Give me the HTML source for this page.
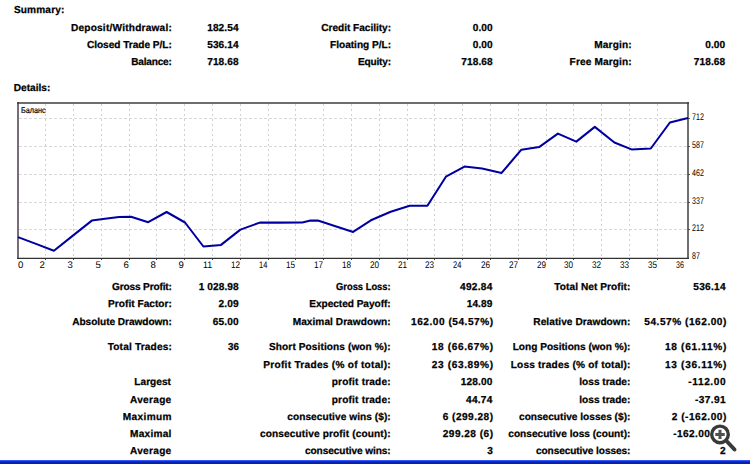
<!DOCTYPE html>
<html><head><meta charset="utf-8"><style>
html,body{margin:0;padding:0;width:750px;height:464px;overflow:hidden;background:#fff;}
body{position:relative;font-family:"Liberation Sans",sans-serif;color:#000;}
.t{position:absolute;white-space:nowrap;line-height:20px;height:20px;transform-origin:0 0;text-rendering:geometricPrecision;}
.b{-webkit-text-stroke:0.25px #000;}
svg{position:absolute;left:0;top:0;}
.g{stroke:#d8d8d8;stroke-width:1;stroke-dasharray:3 2;}
.gv{stroke:#d0d0d0;stroke-width:1;stroke-dasharray:2 3;}
.n{-webkit-text-stroke:0.2px #000;}
.bar{position:absolute;left:0;top:460px;width:750px;height:4px;background:linear-gradient(#3456ff 0,#3456ff 1px,#0a2ee0 1px,#0a2ee0 2px,#0620b0 2px);}
</style></head><body>
<svg width="750" height="464" viewBox="0 0 750 464">
<line x1="19" y1="118.5" x2="687" y2="118.5" class="g"/>
<line x1="19" y1="146.5" x2="687" y2="146.5" class="g"/>
<line x1="19" y1="174.5" x2="687" y2="174.5" class="g"/>
<line x1="19" y1="202.5" x2="687" y2="202.5" class="g"/>
<line x1="19" y1="229.5" x2="687" y2="229.5" class="g"/>
<line x1="45.5" y1="104" x2="45.5" y2="258" class="gv"/>
<line x1="45.5" y1="258" x2="45.5" y2="260" stroke="#444" stroke-width="1"/>
<line x1="73.5" y1="104" x2="73.5" y2="258" class="gv"/>
<line x1="73.5" y1="258" x2="73.5" y2="260" stroke="#444" stroke-width="1"/>
<line x1="101.5" y1="104" x2="101.5" y2="258" class="gv"/>
<line x1="101.5" y1="258" x2="101.5" y2="260" stroke="#444" stroke-width="1"/>
<line x1="129.5" y1="104" x2="129.5" y2="258" class="gv"/>
<line x1="129.5" y1="258" x2="129.5" y2="260" stroke="#444" stroke-width="1"/>
<line x1="156.5" y1="104" x2="156.5" y2="258" class="gv"/>
<line x1="156.5" y1="258" x2="156.5" y2="260" stroke="#444" stroke-width="1"/>
<line x1="184.5" y1="104" x2="184.5" y2="258" class="gv"/>
<line x1="184.5" y1="258" x2="184.5" y2="260" stroke="#444" stroke-width="1"/>
<line x1="212.5" y1="104" x2="212.5" y2="258" class="gv"/>
<line x1="212.5" y1="258" x2="212.5" y2="260" stroke="#444" stroke-width="1"/>
<line x1="240.5" y1="104" x2="240.5" y2="258" class="gv"/>
<line x1="240.5" y1="258" x2="240.5" y2="260" stroke="#444" stroke-width="1"/>
<line x1="268.5" y1="104" x2="268.5" y2="258" class="gv"/>
<line x1="268.5" y1="258" x2="268.5" y2="260" stroke="#444" stroke-width="1"/>
<line x1="295.5" y1="104" x2="295.5" y2="258" class="gv"/>
<line x1="295.5" y1="258" x2="295.5" y2="260" stroke="#444" stroke-width="1"/>
<line x1="323.5" y1="104" x2="323.5" y2="258" class="gv"/>
<line x1="323.5" y1="258" x2="323.5" y2="260" stroke="#444" stroke-width="1"/>
<line x1="351.5" y1="104" x2="351.5" y2="258" class="gv"/>
<line x1="351.5" y1="258" x2="351.5" y2="260" stroke="#444" stroke-width="1"/>
<line x1="379.5" y1="104" x2="379.5" y2="258" class="gv"/>
<line x1="379.5" y1="258" x2="379.5" y2="260" stroke="#444" stroke-width="1"/>
<line x1="407.5" y1="104" x2="407.5" y2="258" class="gv"/>
<line x1="407.5" y1="258" x2="407.5" y2="260" stroke="#444" stroke-width="1"/>
<line x1="434.5" y1="104" x2="434.5" y2="258" class="gv"/>
<line x1="434.5" y1="258" x2="434.5" y2="260" stroke="#444" stroke-width="1"/>
<line x1="462.5" y1="104" x2="462.5" y2="258" class="gv"/>
<line x1="462.5" y1="258" x2="462.5" y2="260" stroke="#444" stroke-width="1"/>
<line x1="490.5" y1="104" x2="490.5" y2="258" class="gv"/>
<line x1="490.5" y1="258" x2="490.5" y2="260" stroke="#444" stroke-width="1"/>
<line x1="518.5" y1="104" x2="518.5" y2="258" class="gv"/>
<line x1="518.5" y1="258" x2="518.5" y2="260" stroke="#444" stroke-width="1"/>
<line x1="546.5" y1="104" x2="546.5" y2="258" class="gv"/>
<line x1="546.5" y1="258" x2="546.5" y2="260" stroke="#444" stroke-width="1"/>
<line x1="573.5" y1="104" x2="573.5" y2="258" class="gv"/>
<line x1="573.5" y1="258" x2="573.5" y2="260" stroke="#444" stroke-width="1"/>
<line x1="601.5" y1="104" x2="601.5" y2="258" class="gv"/>
<line x1="601.5" y1="258" x2="601.5" y2="260" stroke="#444" stroke-width="1"/>
<line x1="629.5" y1="104" x2="629.5" y2="258" class="gv"/>
<line x1="629.5" y1="258" x2="629.5" y2="260" stroke="#444" stroke-width="1"/>
<line x1="657.5" y1="104" x2="657.5" y2="258" class="gv"/>
<line x1="657.5" y1="258" x2="657.5" y2="260" stroke="#444" stroke-width="1"/>
<line x1="688" y1="118.5" x2="690" y2="118.5" stroke="#555" stroke-width="1"/>
<line x1="688" y1="146.5" x2="690" y2="146.5" stroke="#555" stroke-width="1"/>
<line x1="688" y1="174.5" x2="690" y2="174.5" stroke="#555" stroke-width="1"/>
<line x1="688" y1="202.5" x2="690" y2="202.5" stroke="#555" stroke-width="1"/>
<line x1="688" y1="229.5" x2="690" y2="229.5" stroke="#555" stroke-width="1"/>
<line x1="18" y1="102" x2="18" y2="259" stroke="#4a3c4a" stroke-width="1.5"/>
<line x1="17" y1="102.9" x2="689" y2="102.9" stroke="#3e3e3e" stroke-width="1.5"/>
<line x1="688" y1="102" x2="688" y2="259" stroke="#3e3e3e" stroke-width="1.5"/>
<line x1="17" y1="258.4" x2="689" y2="258.4" stroke="#333" stroke-width="1.3"/>
<polyline fill="none" stroke="#0000a0" stroke-width="2.05" stroke-linejoin="round" points="18,237.1 36,243.9 53.9,250.7 72.9,235.6 91.8,220.6 105,218.8 119,217.0 131,216.8 148.2,222.2 166.6,212.0 185,222.5 203.4,246.5 221,244.9 240.4,229.6 259.8,222.6 278.5,222.6 302.4,222.4 310.4,220.6 317.9,220.6 335.5,226.3 353.1,231.9 370.9,220.3 390.7,211.7 409.7,205.7 427.4,205.7 445.9,176.7 464.5,166.6 482,168.6 501.6,172.9 521.4,149.7 539.1,147.1 557.9,133.6 576.3,141.6 594.8,126.9 614.4,142.5 631.5,149.4 650.8,148.5 669.9,122.5 688,117.9"/>
</svg>
<div class="t b" style="left:13.90px;top:1.00px;font-weight:bold;font-size:10.1px;letter-spacing:0.157px;">Summary:</div>
<div class="t b" style="left:13.80px;top:79.00px;font-weight:bold;font-size:10.1px;letter-spacing:0.014px;">Details:</div>
<div class="t b" style="left:70.90px;top:19.00px;font-weight:bold;font-size:10.1px;letter-spacing:0.224px;">Deposit/Withdrawal:</div>
<div class="t b" style="left:86.90px;top:36.00px;font-weight:bold;font-size:10.1px;letter-spacing:-0.018px;">Closed Trade P/L:</div>
<div class="t b" style="left:131.20px;top:53.00px;font-weight:bold;font-size:10.1px;letter-spacing:-0.202px;">Balance:</div>
<div class="t b" style="left:207.20px;top:19.00px;font-weight:bold;font-size:10.1px;letter-spacing:0.088px;">182.54</div>
<div class="t b" style="left:207.20px;top:36.00px;font-weight:bold;font-size:10.1px;letter-spacing:0.088px;">536.14</div>
<div class="t b" style="left:207.20px;top:53.00px;font-weight:bold;font-size:10.1px;letter-spacing:0.088px;">718.68</div>
<div class="t b" style="left:321.30px;top:19.00px;font-weight:bold;font-size:10.1px;letter-spacing:-0.023px;">Credit Facility:</div>
<div class="t b" style="left:330.00px;top:36.00px;font-weight:bold;font-size:10.1px;">Floating P/L:</div>
<div class="t b" style="left:358.00px;top:53.00px;font-weight:bold;font-size:10.1px;letter-spacing:-0.191px;">Equity:</div>
<div class="t b" style="left:472.70px;top:19.00px;font-weight:bold;font-size:10.1px;letter-spacing:0.123px;">0.00</div>
<div class="t b" style="left:472.70px;top:36.00px;font-weight:bold;font-size:10.1px;letter-spacing:0.123px;">0.00</div>
<div class="t b" style="left:461.30px;top:53.00px;font-weight:bold;font-size:10.1px;letter-spacing:0.108px;">718.68</div>
<div class="t b" style="left:594.30px;top:36.00px;font-weight:bold;font-size:10.1px;letter-spacing:0.152px;">Margin:</div>
<div class="t b" style="left:569.60px;top:53.00px;font-weight:bold;font-size:10.1px;letter-spacing:0.135px;">Free Margin:</div>
<div class="t b" style="left:705.20px;top:36.00px;font-weight:bold;font-size:10.1px;letter-spacing:0.123px;">0.00</div>
<div class="t b" style="left:693.70px;top:53.00px;font-weight:bold;font-size:10.1px;letter-spacing:0.128px;">718.68</div>
<div class="t b" style="left:112.00px;top:278.00px;font-weight:bold;font-size:10.1px;letter-spacing:-0.152px;">Gross Profit:</div>
<div class="t b" style="left:108.10px;top:295.00px;font-weight:bold;font-size:10.1px;letter-spacing:0.030px;">Profit Factor:</div>
<div class="t b" style="left:72.20px;top:313.00px;font-weight:bold;font-size:10.1px;letter-spacing:-0.042px;">Absolute Drawdown:</div>
<div class="t b" style="left:107.70px;top:338.00px;font-weight:bold;font-size:10.1px;letter-spacing:0.174px;">Total Trades:</div>
<div class="t b" style="left:134.30px;top:373.00px;font-weight:bold;font-size:10.1px;letter-spacing:0.033px;">Largest</div>
<div class="t b" style="left:130.00px;top:391.00px;font-weight:bold;font-size:10.1px;letter-spacing:0.292px;">Average</div>
<div class="t b" style="left:122.70px;top:408.00px;font-weight:bold;font-size:10.1px;letter-spacing:0.387px;">Maximum</div>
<div class="t b" style="left:130.00px;top:425.00px;font-weight:bold;font-size:10.1px;letter-spacing:0.262px;">Maximal</div>
<div class="t b" style="left:130.00px;top:442.00px;font-weight:bold;font-size:10.1px;letter-spacing:0.292px;">Average</div>
<div class="t b" style="left:198.80px;top:278.00px;font-weight:bold;font-size:10.1px;letter-spacing:0.075px;">1 028.98</div>
<div class="t b" style="left:218.60px;top:295.00px;font-weight:bold;font-size:10.1px;letter-spacing:0.123px;">2.09</div>
<div class="t b" style="left:212.80px;top:313.00px;font-weight:bold;font-size:10.1px;letter-spacing:0.139px;">65.00</div>
<div class="t b" style="left:227.70px;top:338.00px;font-weight:bold;font-size:10.1px;transform:scaleX(0.9730);">36</div>
<div class="t b" style="left:336.00px;top:278.00px;font-weight:bold;font-size:10.1px;transform:scaleX(0.9276);">Gross Loss:</div>
<div class="t b" style="left:309.30px;top:295.00px;font-weight:bold;font-size:10.1px;letter-spacing:-0.035px;">Expected Payoff:</div>
<div class="t b" style="left:292.70px;top:313.00px;font-weight:bold;font-size:10.1px;letter-spacing:0.058px;">Maximal Drawdown:</div>
<div class="t b" style="left:269.00px;top:338.00px;font-weight:bold;font-size:10.1px;letter-spacing:0.097px;">Short Positions (won %):</div>
<div class="t b" style="left:263.30px;top:356.00px;font-weight:bold;font-size:10.1px;letter-spacing:0.283px;">Profit Trades (% of total):</div>
<div class="t b" style="left:331.70px;top:373.00px;font-weight:bold;font-size:10.1px;letter-spacing:0.194px;">profit trade:</div>
<div class="t b" style="left:331.70px;top:391.00px;font-weight:bold;font-size:10.1px;letter-spacing:0.194px;">profit trade:</div>
<div class="t b" style="left:287.30px;top:408.00px;font-weight:bold;font-size:10.1px;letter-spacing:0.064px;">consecutive wins ($):</div>
<div class="t b" style="left:260.00px;top:425.00px;font-weight:bold;font-size:10.1px;letter-spacing:0.129px;">consecutive profit (count):</div>
<div class="t b" style="left:305.00px;top:442.00px;font-weight:bold;font-size:10.1px;letter-spacing:-0.080px;">consecutive wins:</div>
<div class="t b" style="left:460.00px;top:278.00px;font-weight:bold;font-size:10.1px;letter-spacing:0.288px;">492.84</div>
<div class="t b" style="left:466.70px;top:295.00px;font-weight:bold;font-size:10.1px;letter-spacing:0.089px;">14.89</div>
<div class="t b" style="left:411.00px;top:313.00px;font-weight:bold;font-size:10.1px;letter-spacing:0.531px;">162.00 (54.57%)</div>
<div class="t b" style="left:431.70px;top:338.00px;font-weight:bold;font-size:10.1px;letter-spacing:0.637px;">18 (66.67%)</div>
<div class="t b" style="left:431.70px;top:356.00px;font-weight:bold;font-size:10.1px;letter-spacing:0.637px;">23 (63.89%)</div>
<div class="t b" style="left:460.70px;top:373.00px;font-weight:bold;font-size:10.1px;letter-spacing:0.148px;">128.00</div>
<div class="t b" style="left:466.00px;top:391.00px;font-weight:bold;font-size:10.1px;letter-spacing:0.264px;">44.74</div>
<div class="t b" style="left:442.70px;top:408.00px;font-weight:bold;font-size:10.1px;letter-spacing:0.483px;">6 (299.28)</div>
<div class="t b" style="left:442.70px;top:425.00px;font-weight:bold;font-size:10.1px;letter-spacing:0.483px;">299.28 (6)</div>
<div class="t b" style="left:487.30px;top:442.00px;font-weight:bold;font-size:10.1px;">3</div>
<div class="t b" style="left:554.30px;top:278.00px;font-weight:bold;font-size:10.1px;letter-spacing:0.070px;">Total Net Profit:</div>
<div class="t b" style="left:533.30px;top:313.00px;font-weight:bold;font-size:10.1px;letter-spacing:0.068px;">Relative Drawdown:</div>
<div class="t b" style="left:512.70px;top:338.00px;font-weight:bold;font-size:10.1px;">Long Positions (won %):</div>
<div class="t b" style="left:510.70px;top:356.00px;font-weight:bold;font-size:10.1px;letter-spacing:0.196px;">Loss trades (% of total):</div>
<div class="t b" style="left:579.30px;top:373.00px;font-weight:bold;font-size:10.1px;">loss trade:</div>
<div class="t b" style="left:579.30px;top:391.00px;font-weight:bold;font-size:10.1px;">loss trade:</div>
<div class="t b" style="left:519.00px;top:408.00px;font-weight:bold;font-size:10.1px;letter-spacing:0.013px;">consecutive losses ($):</div>
<div class="t b" style="left:508.30px;top:425.00px;font-weight:bold;font-size:10.1px;letter-spacing:0.015px;">consecutive loss (count):</div>
<div class="t b" style="left:536.00px;top:442.00px;font-weight:bold;font-size:10.1px;letter-spacing:-0.087px;">consecutive losses:</div>
<div class="t b" style="left:693.30px;top:278.00px;font-weight:bold;font-size:10.1px;letter-spacing:0.288px;">536.14</div>
<div class="t b" style="left:644.30px;top:313.00px;font-weight:bold;font-size:10.1px;letter-spacing:0.531px;">54.57% (162.00)</div>
<div class="t b" style="left:665.00px;top:338.00px;font-weight:bold;font-size:10.1px;letter-spacing:0.693px;">18 (61.11%)</div>
<div class="t b" style="left:665.00px;top:356.00px;font-weight:bold;font-size:10.1px;letter-spacing:0.693px;">13 (36.11%)</div>
<div class="t b" style="left:688.30px;top:373.00px;font-weight:bold;font-size:10.1px;letter-spacing:0.606px;">-112.00</div>
<div class="t b" style="left:695.00px;top:391.00px;font-weight:bold;font-size:10.1px;letter-spacing:0.399px;">-37.91</div>
<div class="t b" style="left:671.70px;top:408.00px;font-weight:bold;font-size:10.1px;letter-spacing:0.529px;">2 (-162.00)</div>
<div class="t b" style="left:673.30px;top:425.00px;font-weight:bold;font-size:10.1px;letter-spacing:0.369px;">-162.00 (2)</div>
<div class="t b" style="left:720.00px;top:442.00px;font-weight:bold;font-size:10.1px;">2</div>
<div class="t n" style="left:20.70px;top:100.00px;font-weight:normal;font-size:8.4px;transform:scaleX(0.8685);">Баланс</div>
<div class="t" style="left:691.50px;top:108.00px;font-weight:normal;font-size:9.6px;transform:scaleX(0.7402);">712</div>
<div class="t" style="left:691.50px;top:136.00px;font-weight:normal;font-size:9.6px;transform:scaleX(0.7402);">587</div>
<div class="t" style="left:691.50px;top:164.00px;font-weight:normal;font-size:9.6px;transform:scaleX(0.7402);">462</div>
<div class="t" style="left:691.50px;top:192.00px;font-weight:normal;font-size:9.6px;transform:scaleX(0.7402);">337</div>
<div class="t" style="left:691.50px;top:219.00px;font-weight:normal;font-size:9.6px;transform:scaleX(0.7402);">212</div>
<div class="t" style="left:691.50px;top:247.00px;font-weight:normal;font-size:9.6px;transform:scaleX(0.7353);">87</div>
<div class="t" style="left:18.00px;top:256.00px;font-weight:normal;font-size:9.6px;">0</div>
<div class="t" style="left:39.50px;top:256.00px;font-weight:normal;font-size:9.6px;">2</div>
<div class="t" style="left:67.50px;top:256.00px;font-weight:normal;font-size:9.6px;">3</div>
<div class="t" style="left:95.50px;top:256.00px;font-weight:normal;font-size:9.6px;">5</div>
<div class="t" style="left:123.50px;top:256.00px;font-weight:normal;font-size:9.6px;">6</div>
<div class="t" style="left:150.50px;top:256.00px;font-weight:normal;font-size:9.6px;">8</div>
<div class="t" style="left:178.50px;top:256.00px;font-weight:normal;font-size:9.6px;">9</div>
<div class="t" style="left:202.90px;top:256.00px;font-weight:normal;font-size:9.6px;transform:scaleX(0.9145);">11</div>
<div class="t" style="left:230.90px;top:256.00px;font-weight:normal;font-size:9.6px;transform:scaleX(0.8514);">12</div>
<div class="t" style="left:258.90px;top:256.00px;font-weight:normal;font-size:9.6px;transform:scaleX(0.7763);">14</div>
<div class="t" style="left:285.90px;top:256.00px;font-weight:normal;font-size:9.6px;transform:scaleX(0.8514);">15</div>
<div class="t" style="left:313.90px;top:256.00px;font-weight:normal;font-size:9.6px;transform:scaleX(0.8514);">17</div>
<div class="t" style="left:341.90px;top:256.00px;font-weight:normal;font-size:9.6px;transform:scaleX(0.8514);">18</div>
<div class="t" style="left:369.90px;top:256.00px;font-weight:normal;font-size:9.6px;transform:scaleX(0.8514);">20</div>
<div class="t" style="left:397.90px;top:256.00px;font-weight:normal;font-size:9.6px;transform:scaleX(0.8514);">21</div>
<div class="t" style="left:424.90px;top:256.00px;font-weight:normal;font-size:9.6px;transform:scaleX(0.8514);">23</div>
<div class="t" style="left:452.90px;top:256.00px;font-weight:normal;font-size:9.6px;transform:scaleX(0.7763);">24</div>
<div class="t" style="left:480.90px;top:256.00px;font-weight:normal;font-size:9.6px;transform:scaleX(0.8514);">26</div>
<div class="t" style="left:508.90px;top:256.00px;font-weight:normal;font-size:9.6px;transform:scaleX(0.8514);">27</div>
<div class="t" style="left:536.90px;top:256.00px;font-weight:normal;font-size:9.6px;transform:scaleX(0.8514);">29</div>
<div class="t" style="left:563.90px;top:256.00px;font-weight:normal;font-size:9.6px;transform:scaleX(0.8514);">30</div>
<div class="t" style="left:591.90px;top:256.00px;font-weight:normal;font-size:9.6px;transform:scaleX(0.8514);">32</div>
<div class="t" style="left:619.90px;top:256.00px;font-weight:normal;font-size:9.6px;transform:scaleX(0.8514);">33</div>
<div class="t" style="left:647.90px;top:256.00px;font-weight:normal;font-size:9.6px;transform:scaleX(0.8514);">35</div>
<div class="t" style="left:676.30px;top:256.00px;font-weight:normal;font-size:9.6px;transform:scaleX(0.7450);">36</div>
<svg width="750" height="464" viewBox="0 0 750 464">
<circle cx="720" cy="434.4" r="8.3" fill="#fff" stroke="#3a3a3a" stroke-width="3.4"/>
<line x1="727" y1="441.5" x2="734.5" y2="449.5" stroke="#3a3a3a" stroke-width="4" stroke-linecap="round"/>
<path d="M715.3 434.4H724.7M720 429.7V439.1" stroke="#505050" stroke-width="3"/>
</svg>
<div class="bar"></div>
</body></html>
